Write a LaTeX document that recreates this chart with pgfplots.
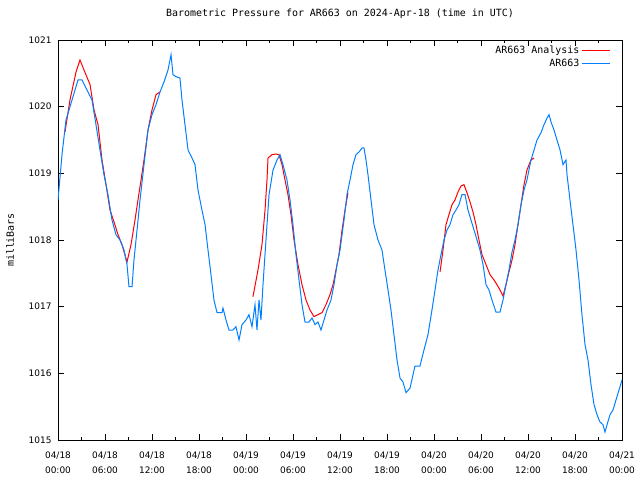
\documentclass[border=0pt]{standalone}
\usepackage{fontspec}
\setmainfont{DejaVu Sans Mono}
\newfontfamily\tickfont{DejaVu Sans}
\usepackage{pgfplots}
\pgfplotsset{compat=1.18}
\definecolor{rline}{RGB}{255,0,0}
\definecolor{bline}{RGB}{0,128,255}
\begin{document}
\begin{tikzpicture}
\path[use as bounding box] (-58bp,-40bp) rectangle (582bp,440bp);
\begin{axis}[
  at={(0,0)}, anchor=south west,
  scale only axis, width=564bp, height=400bp,
  xmin=0, xmax=72, ymin=1015, ymax=1021,
  xtick={0,6,...,72},
  xticklabels={04/18\\00:00,04/18\\06:00,04/18\\12:00,04/18\\18:00,04/19\\00:00,04/19\\06:00,04/19\\12:00,04/19\\18:00,04/20\\00:00,04/20\\06:00,04/20\\12:00,04/20\\18:00,04/21\\00:00},
  minor x tick num=1,
  ytick={1015,1016,1017,1018,1019,1020,1021},
  /pgf/number format/.cd, 1000 sep={}, assume math mode=true, /pgfplots/.cd,
  tick align=inside,
  major tick length=6bp, minor tick length=3bp,
  every tick/.style={black, line width=0.8bp},
  axis line style={line width=0.8bp},
  xticklabel style={align=center, font=\fontsize{9}{15.5}\tickfont, yshift=-8bp},
  yticklabel style={font=\fontsize{9}{10}\tickfont, xshift=-3bp},
  title={Barometric Pressure for AR663 on 2024-Apr-18 (time in UTC)},
  title style={font=\fontsize{10}{12}\selectfont, at={(0.5,1)}, anchor=south, yshift=12bp},
  ylabel={milliBars},
  ylabel style={font=\fontsize{10}{12}\selectfont, at={(axis description cs:-0.085,0.5)}, anchor=center},
  legend style={draw=none, fill=none, at={(0.985,0.995)}, anchor=north east, font=\fontsize{10}{11}\selectfont, row sep=0pt},
  legend cell align=right,
  legend plot pos=right,
  legend image code/.code={\draw[#1, sharp plot] (0bp,0bp) -- (28bp,0bp);},
]
\addplot[rline, line width=1bp, sharp plot] coordinates {
(0.89,1019.62)(1.53,1020.10)(2.30,1020.52)(2.81,1020.70)(3.32,1020.55)(4.09,1020.33)(4.60,1019.95)(5.11,1019.73)(5.62,1019.20)(6.13,1018.83)(6.64,1018.45)(7.15,1018.27)(7.66,1018.08)(8.17,1017.93)(8.81,1017.67)(9.32,1017.93)(9.83,1018.30)(10.21,1018.60)(10.60,1018.90)(10.98,1019.20)(11.49,1019.65)(12.00,1019.95)(12.51,1020.18)(13.02,1020.22)
};
\addlegendentry{AR663 Analysis}
\addplot[rline, line width=1bp, sharp plot, forget plot] coordinates {
(24.89,1017.15)(25.53,1017.55)(26.04,1017.93)(26.43,1018.45)(26.68,1018.90)(26.81,1019.23)(27.32,1019.28)(27.83,1019.29)(28.21,1019.28)(28.60,1019.13)(28.98,1018.90)(29.36,1018.68)(29.74,1018.38)(30.13,1018.00)(30.64,1017.63)(31.15,1017.33)(31.66,1017.10)(32.17,1016.95)(32.68,1016.85)(33.19,1016.88)(33.70,1016.91)(34.21,1017.03)(34.72,1017.18)(35.11,1017.33)(35.49,1017.55)(35.87,1017.78)(36.26,1018.15)(36.64,1018.45)(37.02,1018.71)
};
\addplot[rline, line width=1bp, sharp plot, forget plot] coordinates {
(48.77,1017.52)(49.15,1017.85)(49.53,1018.23)(49.91,1018.38)(50.30,1018.53)(50.68,1018.60)(51.06,1018.72)(51.45,1018.81)(51.83,1018.83)(52.21,1018.71)(52.60,1018.57)(52.98,1018.42)(53.36,1018.23)(53.74,1018.00)(54.13,1017.78)(54.64,1017.63)(55.15,1017.48)(55.66,1017.40)(56.04,1017.33)(56.43,1017.25)(56.81,1017.16)(57.19,1017.33)(57.57,1017.52)(57.96,1017.70)(58.34,1017.93)(58.72,1018.23)(59.11,1018.53)(59.49,1018.83)(59.87,1019.05)(60.38,1019.20)(60.77,1019.23)
};
\addplot[bline, line width=1bp, sharp plot] coordinates {
(0,1018.60)(0.51,1019.28)(1.02,1019.80)(1.79,1020.10)(2.55,1020.40)(3.06,1020.40)(3.57,1020.28)(4.34,1020.10)(4.85,1019.73)(5.36,1019.35)(5.87,1018.98)(6.38,1018.68)(6.89,1018.30)(7.40,1018.08)(7.91,1018.00)(8.43,1017.85)(8.81,1017.63)(9.06,1017.30)(9.45,1017.30)(9.70,1017.70)(10.09,1018.15)(10.47,1018.60)(10.98,1019.13)(11.49,1019.65)(12.00,1019.88)(12.51,1020.03)(13.02,1020.22)(13.53,1020.37)(14.04,1020.55)(14.43,1020.78)(14.68,1020.48)(15.06,1020.45)(15.57,1020.43)(15.83,1020.10)(16.21,1019.73)(16.60,1019.35)(17.11,1019.23)(17.49,1019.13)(17.87,1018.75)(18.38,1018.45)(18.77,1018.23)(19.15,1017.85)(19.53,1017.48)(19.91,1017.10)(20.30,1016.91)(20.94,1016.91)(21.06,1016.98)(21.45,1016.80)(21.83,1016.65)(22.34,1016.65)(22.72,1016.70)(23.11,1016.50)(23.49,1016.73)(24.00,1016.80)(24.38,1016.88)(24.77,1016.70)(25.15,1017.03)(25.40,1016.65)(25.66,1017.10)(25.91,1016.80)(26.17,1017.33)(26.55,1018.00)(26.94,1018.68)(27.45,1019.05)(27.96,1019.20)(28.34,1019.28)(28.72,1019.13)(29.23,1018.90)(29.62,1018.60)(30.00,1018.23)(30.38,1017.78)(30.77,1017.40)(31.15,1017.03)(31.53,1016.77)(32.04,1016.77)(32.43,1016.83)(32.81,1016.73)(33.19,1016.77)(33.57,1016.65)(33.96,1016.80)(34.34,1016.95)(34.85,1017.10)(35.23,1017.33)(35.62,1017.63)(36.00,1017.85)(36.51,1018.30)(36.89,1018.68)(37.28,1018.90)(37.66,1019.13)(38.04,1019.28)(38.43,1019.32)(38.81,1019.38)(39.06,1019.38)(39.32,1019.20)(39.57,1018.98)(39.96,1018.60)(40.34,1018.23)(40.85,1018.00)(41.36,1017.85)(41.74,1017.55)(42.13,1017.25)(42.51,1016.95)(42.89,1016.58)(43.28,1016.20)(43.66,1015.93)(44.04,1015.87)(44.43,1015.71)(44.94,1015.78)(45.57,1016.11)(46.21,1016.11)(46.72,1016.35)(47.23,1016.58)(47.74,1016.95)(48.13,1017.25)(48.51,1017.55)(48.89,1017.78)(49.28,1018.00)(49.66,1018.15)(50.04,1018.23)(50.43,1018.38)(50.81,1018.45)(51.19,1018.53)(51.57,1018.68)(51.96,1018.68)(52.34,1018.45)(52.72,1018.30)(53.11,1018.15)(53.49,1018.00)(53.87,1017.85)(54.26,1017.63)(54.64,1017.33)(55.02,1017.25)(55.40,1017.10)(55.91,1016.92)(56.43,1016.92)(56.81,1017.10)(57.19,1017.33)(57.57,1017.55)(57.96,1017.82)(58.34,1018.00)(58.72,1018.23)(59.11,1018.53)(59.49,1018.75)(59.87,1018.90)(60.38,1019.20)(60.77,1019.35)(61.15,1019.50)(61.66,1019.61)(62.04,1019.73)(62.43,1019.83)(62.68,1019.88)(62.94,1019.77)(63.32,1019.65)(63.70,1019.50)(64.09,1019.35)(64.47,1019.13)(64.85,1019.20)(64.98,1018.98)(65.36,1018.60)(65.74,1018.23)(66.13,1017.85)(66.51,1017.40)(66.89,1016.88)(67.28,1016.43)(67.66,1016.20)(68.04,1015.83)(68.43,1015.53)(68.81,1015.38)(69.19,1015.27)(69.57,1015.23)(69.83,1015.12)(70.09,1015.23)(70.47,1015.38)(70.85,1015.45)(71.23,1015.60)(71.62,1015.75)(72.00,1015.90)
};
\addlegendentry{AR663}
\end{axis}
\end{tikzpicture}
\end{document}
